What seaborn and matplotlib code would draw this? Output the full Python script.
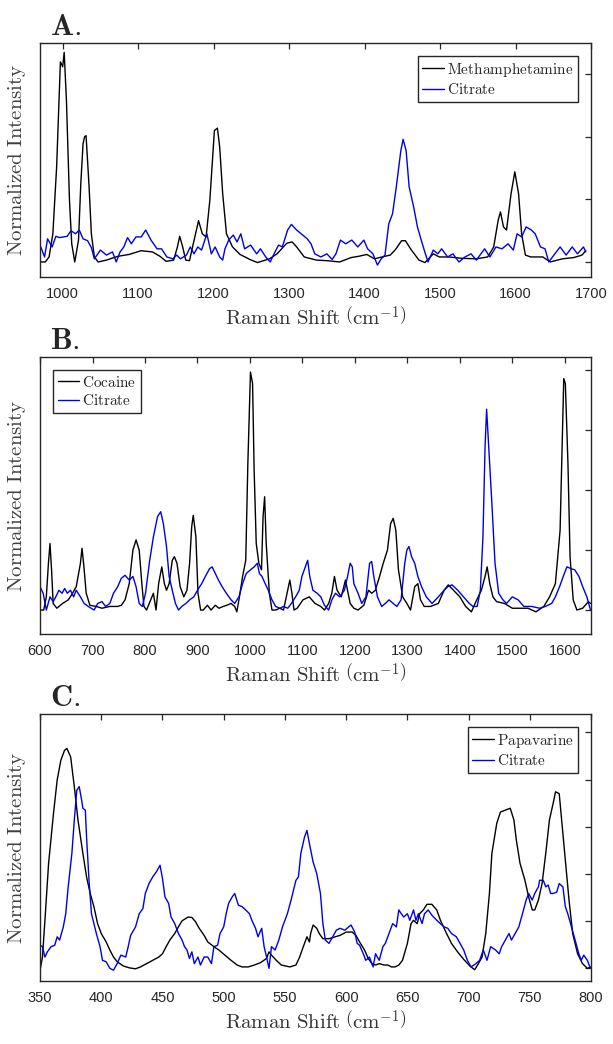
import matplotlib
matplotlib.use("Agg")
import numpy as np
import pandas as pd
import seaborn as sns
import matplotlib.pyplot as plt

# ---- Panel A: methamphetamine vs citrate ----
a_meth_x = [970, 977, 982, 987, 992, 997, 1000, 1002, 1005, 1009, 1012, 1016, 1021, 1024, 1027, 1029, 1031, 1035,
            1038, 1042, 1047, 1058, 1073, 1088, 1104, 1119, 1129, 1137, 1147, 1152, 1155, 1159, 1163, 1168, 1173,
            1180, 1185, 1190, 1195, 1201, 1205, 1208, 1212, 1217, 1225, 1235, 1248, 1258, 1274, 1284, 1297, 1304,
            1310, 1320, 1336, 1351, 1367, 1382, 1392, 1403, 1413, 1423, 1434, 1441, 1449, 1454, 1462, 1472, 1480,
            1491, 1499, 1512, 1527, 1548, 1563, 1571, 1577, 1580, 1584, 1588, 1594, 1599, 1604, 1608, 1613, 1620,
            1636, 1646, 1662, 1677, 1688, 1693]
a_meth_y = [0.00, 0.00, 0.08, 0.45, 1.52, 3.20, 3.12, 3.35, 2.58, 0.99, 0.29, 0.00, 0.35, 1.25, 1.89, 2.00, 2.02, 1.20,
            0.45, 0.08, 0.00, 0.03, 0.09, 0.12, 0.18, 0.16, 0.09, 0.01, 0.03, 0.24, 0.41, 0.24, 0.03, 0.02, 0.29,
            0.66, 0.45, 0.40, 0.99, 2.10, 2.14, 1.84, 1.09, 0.45, 0.24, 0.12, 0.04, -0.01, 0.05, 0.13, 0.30, 0.32,
            0.24, 0.08, 0.03, 0.02, 0.00, 0.07, 0.09, 0.12, 0.05, 0.08, 0.11, 0.20, 0.34, 0.34, 0.19, 0.03, -0.01,
            0.13, 0.08, 0.08, 0.06, 0.05, 0.08, 0.24, 0.67, 0.80, 0.56, 0.51, 1.09, 1.44, 1.09, 0.45, 0.11, 0.08,
            0.08, 0.00, 0.05, 0.07, 0.11, 0.18]
a_cit_x = [971, 976, 980, 986, 991, 996, 1006, 1011, 1017, 1022, 1027, 1033, 1038, 1042, 1050, 1058, 1066, 1071, 1076,
           1081, 1086, 1091, 1097, 1104, 1110, 1117, 1125, 1131, 1138, 1146, 1151, 1156, 1164, 1169, 1174, 1179,
           1184, 1191, 1197, 1202, 1208, 1212, 1215, 1220, 1226, 1231, 1236, 1241, 1249, 1257, 1262, 1269, 1275,
           1280, 1286, 1291, 1298, 1303, 1310, 1316, 1324, 1329, 1334, 1342, 1350, 1357, 1362, 1368, 1375, 1383,
           1391, 1399, 1404, 1411, 1417, 1422, 1427, 1432, 1437, 1442, 1448, 1451, 1455, 1459, 1465, 1470, 1475,
           1479, 1484, 1491, 1497, 1502, 1510, 1517, 1525, 1533, 1541, 1548, 1559, 1566, 1574, 1582, 1590, 1597,
           1602, 1608, 1614, 1621, 1626, 1633, 1639, 1644, 1652, 1659, 1667, 1675, 1682, 1690, 1693]
a_cit_y = [0.24, 0.08, 0.37, 0.24, 0.41, 0.39, 0.41, 0.50, 0.45, 0.51, 0.37, 0.34, 0.23, 0.05, 0.19, 0.11, 0.16, 0.00,
           0.16, 0.24, 0.39, 0.29, 0.40, 0.40, 0.51, 0.35, 0.21, 0.21, 0.08, 0.05, 0.11, 0.05, 0.11, 0.24, 0.13,
           0.24, 0.19, 0.45, 0.13, 0.24, 0.08, 0.03, 0.21, 0.35, 0.43, 0.32, 0.45, 0.21, 0.27, 0.13, 0.21, 0.08,
           0.00, 0.13, 0.27, 0.24, 0.51, 0.60, 0.51, 0.45, 0.37, 0.29, 0.13, 0.08, 0.13, 0.04, 0.13, 0.35, 0.29,
           0.35, 0.24, 0.35, 0.21, 0.13, -0.05, 0.05, 0.11, 0.61, 0.77, 1.20, 1.78, 1.96, 1.78, 1.20, 0.88, 0.56,
           0.35, 0.19, 0.00, 0.19, 0.13, 0.21, 0.08, 0.13, 0.00, 0.08, 0.13, 0.03, 0.21, 0.08, 0.24, 0.21, 0.29,
           0.19, 0.45, 0.40, 0.56, 0.51, 0.45, 0.24, 0.21, 0.00, 0.13, 0.24, 0.11, 0.24, 0.13, 0.24, 0.16]

# ---- Panel B: cocaine vs citrate ----
b_coc_x = [600, 607, 612, 616, 619, 622, 625, 632, 643, 654, 662, 669, 677, 680, 683, 688, 695, 707, 718, 733, 748,
           755, 762, 770, 777, 783, 789, 794, 798, 803, 811, 816, 821, 826, 832, 837, 841, 846, 852, 856, 861, 867,
           874, 880, 885, 889, 892, 897, 901, 906, 911, 919, 926, 934, 941, 949, 956, 964, 971, 975, 980, 986, 992,
           996, 1001, 1005, 1008, 1012, 1017, 1022, 1025, 1028, 1031, 1037, 1042, 1049, 1057, 1064, 1072, 1076,
           1080, 1084, 1090, 1101, 1113, 1124, 1135, 1142, 1150, 1156, 1161, 1166, 1174, 1182, 1191, 1198, 1206,
           1217, 1226, 1232, 1239, 1247, 1254, 1262, 1268, 1273, 1278, 1283, 1291, 1299, 1306, 1314, 1320, 1325,
           1332, 1344, 1359, 1370, 1378, 1388, 1400, 1411, 1422, 1429, 1441, 1448, 1452, 1457, 1463, 1470, 1485,
           1500, 1515, 1530, 1545, 1560, 1571, 1582, 1591, 1598, 1601, 1606, 1610, 1616, 1623, 1634, 1645, 1649]
b_coc_y = [0.00, 0.00, 0.22, 0.78, 1.11, 0.67, 0.11, 0.03, 0.11, 0.17, 0.28, 0.39, 0.78, 1.03, 0.78, 0.28, 0.08, 0.06,
           0.03, 0.06, 0.06, 0.08, 0.17, 0.44, 1.00, 1.17, 1.00, 0.44, 0.06, 0.00, 0.17, 0.28, 0.00, 0.44, 0.72,
           0.44, 0.33, 0.44, 0.83, 0.89, 0.78, 0.39, 0.22, 0.33, 0.78, 1.39, 1.58, 1.22, 0.28, 0.00, 0.00, 0.08,
           0.00, 0.08, 0.03, 0.06, 0.08, 0.11, 0.06, -0.03, 0.22, 0.56, 0.83, 2.44, 3.97, 3.78, 2.33, 1.11, 0.78,
           0.67, 1.56, 1.89, 1.11, 0.28, 0.00, 0.00, 0.03, 0.00, 0.33, 0.50, 0.28, 0.00, 0.03, 0.17, 0.22, 0.11,
           0.06, 0.00, 0.11, 0.28, 0.56, 0.33, 0.22, 0.50, 0.11, 0.03, 0.00, 0.08, 0.33, 0.28, 0.33, 0.56, 0.78,
           1.00, 1.44, 1.53, 1.33, 0.67, 0.22, 0.11, 0.00, 0.39, 0.44, 0.17, 0.06, 0.06, 0.11, 0.33, 0.42, 0.33,
           0.22, 0.06, -0.03, 0.11, 0.33, 0.56, 0.72, 0.44, 0.22, 0.14, 0.11, 0.03, 0.03, 0.03, -0.03, 0.06, 0.22,
           0.44, 1.33, 3.86, 3.78, 2.44, 0.89, 0.17, 0.00, 0.03, 0.14, 0.11]
b_cit_x = [600, 606, 612, 619, 625, 630, 636, 642, 647, 652, 658, 664, 669, 677, 684, 692, 703, 710, 718, 725, 733,
           740, 748, 755, 762, 770, 777, 783, 789, 795, 801, 809, 816, 824, 830, 835, 841, 846, 852, 858, 864, 870,
           878, 885, 893, 900, 908, 915, 923, 928, 934, 940, 947, 955, 964, 971, 979, 986, 993, 1001, 1008, 1014,
           1018, 1023, 1029, 1035, 1042, 1049, 1057, 1064, 1072, 1079, 1087, 1094, 1099, 1110, 1114, 1120, 1128,
           1135, 1142, 1150, 1156, 1163, 1171, 1180, 1186, 1191, 1195, 1198, 1206, 1213, 1221, 1228, 1232, 1236,
           1243, 1251, 1258, 1265, 1273, 1280, 1288, 1295, 1299, 1303, 1308, 1314, 1320, 1327, 1336, 1347, 1359,
           1370, 1377, 1385, 1396, 1407, 1418, 1425, 1433, 1439, 1444, 1448, 1451, 1455, 1461, 1467, 1474, 1482,
           1489, 1500, 1511, 1522, 1537, 1552, 1563, 1575, 1582, 1590, 1597, 1604, 1612, 1619, 1627, 1634, 1642,
           1649]
b_cit_y = [0.39, 0.28, 0.00, 0.22, 0.14, 0.22, 0.33, 0.28, 0.36, 0.28, 0.33, 0.22, 0.33, 0.22, 0.11, 0.06, 0.00, 0.11,
           0.14, 0.06, 0.11, 0.28, 0.39, 0.53, 0.58, 0.50, 0.56, 0.39, 0.11, 0.06, 0.28, 0.83, 1.22, 1.56, 1.64,
           1.44, 1.06, 0.56, 0.33, 0.11, 0.00, 0.06, 0.11, 0.17, 0.22, 0.33, 0.44, 0.56, 0.69, 0.72, 0.61, 0.50,
           0.39, 0.28, 0.17, 0.11, 0.22, 0.44, 0.61, 0.67, 0.72, 0.78, 0.61, 0.56, 0.44, 0.33, 0.17, 0.06, 0.03,
           0.06, 0.03, 0.11, 0.22, 0.33, 0.56, 0.83, 0.56, 0.33, 0.28, 0.22, 0.08, 0.00, 0.17, 0.28, 0.22, 0.33,
           0.56, 0.78, 0.72, 0.44, 0.28, 0.11, 0.22, 0.78, 0.81, 0.56, 0.22, 0.06, 0.11, 0.17, 0.11, 0.06, 0.17,
           0.78, 1.00, 1.06, 0.89, 0.78, 0.56, 0.39, 0.22, 0.11, 0.22, 0.33, 0.39, 0.42, 0.33, 0.22, 0.11, 0.06,
           0.06, 0.33, 1.22, 2.72, 3.35, 2.72, 1.78, 0.78, 0.28, 0.17, 0.11, 0.22, 0.17, 0.06, 0.06, 0.03, 0.06,
           0.11, 0.22, 0.39, 0.56, 0.72, 0.69, 0.67, 0.56, 0.39, 0.22, 0.00]

# ---- Panel C: papavarine vs citrate ----
c_pap_x = [350, 352, 354, 357, 361, 364, 367, 370, 372, 375, 378, 381, 385, 388, 391, 394, 397, 400, 404, 407, 410,
           413, 418, 423, 428, 432, 437, 442, 447, 450, 453, 456, 460, 463, 466, 471, 474, 477, 480, 484, 487, 492,
           496, 501, 506, 511, 515, 520, 525, 530, 535, 537, 539, 543, 547, 554, 559, 562, 565, 568, 570, 571, 573,
           576, 578, 581, 586, 591, 595, 600, 605, 608, 611, 615, 618, 621, 624, 627, 631, 634, 637, 640, 643, 646,
           650, 653, 655, 658, 660, 663, 666, 670, 674, 677, 682, 686, 691, 696, 701, 705, 708, 711, 714, 717, 719,
           723, 726, 730, 734, 737, 739, 742, 746, 749, 752, 754, 757, 760, 763, 766, 769, 771, 774, 776, 779, 782,
           785, 789, 793, 797, 800]
c_pap_y = [-0.05, 0.23, 1.01, 2.22, 3.28, 3.99, 4.41, 4.62, 4.66, 4.48, 3.85, 3.14, 2.43, 1.93, 1.58, 1.30, 0.94, 0.73,
           0.55, 0.38, 0.23, 0.13, 0.04, 0.00, -0.02, 0.02, 0.09, 0.16, 0.23, 0.30, 0.45, 0.59, 0.73, 0.87, 1.00,
           1.08, 1.07, 0.98, 0.84, 0.69, 0.55, 0.45, 0.38, 0.27, 0.16, 0.06, 0.02, 0.02, 0.06, 0.11, 0.20, 0.34,
           0.27, 0.16, 0.06, 0.02, 0.06, 0.23, 0.45, 0.66, 0.55, 0.73, 0.91, 0.84, 0.73, 0.62, 0.62, 0.66, 0.69,
           0.76, 0.76, 0.69, 0.55, 0.38, 0.20, 0.09, 0.06, 0.09, 0.06, 0.06, 0.02, 0.02, 0.06, 0.16, 0.52, 0.94,
           1.01, 0.94, 1.15, 1.23, 1.35, 1.35, 1.23, 1.01, 0.73, 0.52, 0.34, 0.18, 0.04, -0.04, 0.09, 0.23, 0.73,
           1.58, 2.43, 3.07, 3.31, 3.35, 3.39, 3.14, 2.71, 2.22, 1.86, 1.51, 1.23, 1.23, 1.44, 1.79, 2.43, 3.14,
           3.49, 3.74, 3.70, 3.14, 2.29, 1.44, 0.73, 0.30, 0.09, -0.01, 0.02]
c_cit_x = [350, 352, 354, 356, 359, 362, 364, 366, 369, 371, 373, 376, 378, 380, 382, 384, 385, 387, 388, 390, 392,
           396, 399, 401, 404, 407, 410, 413, 416, 420, 422, 424, 428, 431, 434, 436, 439, 442, 445, 448, 450, 452,
           455, 457, 460, 463, 466, 468, 470, 472, 474, 476, 479, 481, 484, 487, 490, 492, 495, 497, 500, 502, 504,
           507, 509, 512, 515, 518, 521, 523, 526, 528, 531, 533, 535, 537, 539, 542, 545, 548, 552, 555, 559, 561,
           563, 566, 568, 570, 573, 576, 579, 581, 583, 586, 589, 592, 595, 599, 602, 604, 607, 609, 611, 614, 616,
           619, 622, 624, 627, 630, 632, 635, 638, 641, 643, 645, 647, 650, 652, 655, 657, 659, 662, 664, 667, 670,
           674, 677, 680, 683, 686, 690, 693, 696, 699, 702, 706, 709, 712, 715, 718, 722, 725, 727, 730, 733, 735,
           738, 741, 744, 747, 749, 752, 754, 757, 758, 761, 763, 765, 767, 769, 772, 774, 777, 779, 781, 784, 787,
           790, 792, 794, 797, 799]
c_cit_y = [0.48, 0.45, 0.23, 0.34, 0.45, 0.48, 0.66, 0.59, 0.87, 1.15, 1.72, 2.43, 3.14, 3.77, 3.85, 3.56, 3.39, 3.35,
           2.78, 1.86, 1.15, 0.73, 0.45, 0.16, 0.13, -0.01, -0.05, 0.09, 0.27, 0.23, 0.45, 0.69, 0.87, 1.15, 1.26,
           1.58, 1.79, 1.93, 2.04, 2.18, 1.90, 1.51, 1.37, 1.08, 0.94, 0.73, 0.59, 0.45, 0.38, 0.20, 0.34, 0.09,
           0.23, 0.06, 0.23, 0.23, 0.09, 0.45, 0.48, 0.73, 0.87, 1.15, 1.37, 1.51, 1.58, 1.33, 1.30, 1.23, 1.15,
           1.01, 0.84, 0.66, 0.84, 0.45, 0.23, -0.01, 0.45, 0.38, 0.59, 0.87, 1.15, 1.44, 1.86, 1.93, 2.43, 2.78,
           2.92, 2.64, 2.25, 2.00, 1.58, 0.94, 0.59, 0.52, 0.66, 0.80, 0.84, 0.80, 0.87, 0.91, 0.76, 0.52, 0.48,
           0.30, 0.16, 0.23, 0.02, 0.30, 0.16, 0.45, 0.52, 0.73, 0.94, 0.87, 1.23, 1.15, 1.08, 1.15, 1.01, 1.23,
           1.01, 1.15, 0.94, 1.15, 1.23, 1.12, 1.01, 0.94, 0.87, 0.84, 0.73, 0.66, 0.52, 0.38, 0.16, 0.02, 0.09,
           0.16, 0.38, 0.16, 0.45, 0.38, 0.30, 0.45, 0.59, 0.73, 0.59, 0.73, 0.87, 1.15, 1.44, 1.58, 1.44, 1.58,
           1.72, 1.86, 1.86, 1.72, 1.76, 1.58, 1.58, 1.61, 1.79, 1.72, 1.30, 1.15, 0.87, 0.59, 0.30, 0.16, 0.27,
           0.16, 0.02]

panels = [
    dict(tag="A.", drug="Methamphetamine", dx=a_meth_x, dy=a_meth_y, cx=a_cit_x, cy=a_cit_y,
         xlim=(970, 1700), xticks=np.arange(1000, 1701, 100), ylim=(-0.24, 3.5), yticks=[0, 1, 2, 3],
         loc="upper right", rect=[0.0653, 0.7347, 0.8989, 0.2241]),
    dict(tag="B.", drug="Cocaine", dx=b_coc_x, dy=b_coc_y, cx=b_cit_x, cy=b_cit_y,
         xlim=(600, 1650), xticks=np.arange(600, 1601, 100), ylim=(-0.4, 4.22), yticks=[0, 1, 2, 3, 4],
         loc="upper left", rect=[0.0653, 0.3927, 0.8989, 0.2653]),
    dict(tag="C.", drug="Papavarine", dx=c_pap_x, dy=c_pap_y, cx=c_cit_x, cy=c_cit_y,
         xlim=(350, 800), xticks=np.arange(350, 801, 50), ylim=(-0.28, 5.39), yticks=[0, 1, 2, 3, 4, 5],
         loc="upper right", rect=[0.0653, 0.0603, 0.8989, 0.2557]),
]

sns.set_style("white")
plt.rcParams["mathtext.fontset"] = "cm"
plt.rcParams["font.family"] = ["Liberation Sans", "DejaVu Sans"]

edge = "#262626"
fig = plt.figure(figsize=(6.13, 10.44), dpi=100)

for p in panels:
    ax = fig.add_axes(p["rect"])
    drug = pd.DataFrame({"shift": p["dx"], "intensity": p["dy"]})
    cit = pd.DataFrame({"shift": p["cx"], "intensity": p["cy"]})
    sns.lineplot(data=drug, x="shift", y="intensity", ax=ax, color="black", lw=1.0,
                 estimator=None, sort=False, label=r"$\mathrm{%s}$" % p["drug"])
    sns.lineplot(data=cit, x="shift", y="intensity", ax=ax, color="#0000e6", lw=1.0,
                 estimator=None, sort=False, label=r"$\mathrm{Citrate}$")

    ax.set_xlim(*p["xlim"])
    ax.set_ylim(*p["ylim"])
    ax.set_xticks(p["xticks"])
    ax.set_yticks(p["yticks"])
    ax.set_yticklabels([])
    ax.tick_params(direction="in", top=True, right=True, length=4, width=0.9,
                   color=edge, labelcolor=edge, labelsize=10.5, pad=7)
    for s in ax.spines.values():
        s.set_color(edge)
        s.set_linewidth(1.0)

    ax.set_xlabel(r"$\mathrm{Raman\ Shift}\ \left(\mathrm{cm}^{-1}\right)$", fontsize=15, color="#333333", labelpad=3)
    ax.set_ylabel(r"$\mathrm{Normalized\ Intensity}$", fontsize=15, color="#404040", labelpad=2)

    leg = ax.legend(loc=p["loc"], fontsize=11, handlelength=1.4, handletextpad=0.2,
                    borderpad=0.3, labelspacing=0.25, borderaxespad=0.85, fancybox=False, framealpha=1)
    leg.get_frame().set_edgecolor(edge)
    leg.get_frame().set_linewidth(1.0)

    ax.annotate(r"$\mathbf{%s}$" % p["tag"], xy=(0, 1), xycoords="axes fraction",
                xytext=(7, 6), textcoords="offset points", fontsize=22, va="baseline", ha="left")

fig.savefig("out.png", dpi=100)
